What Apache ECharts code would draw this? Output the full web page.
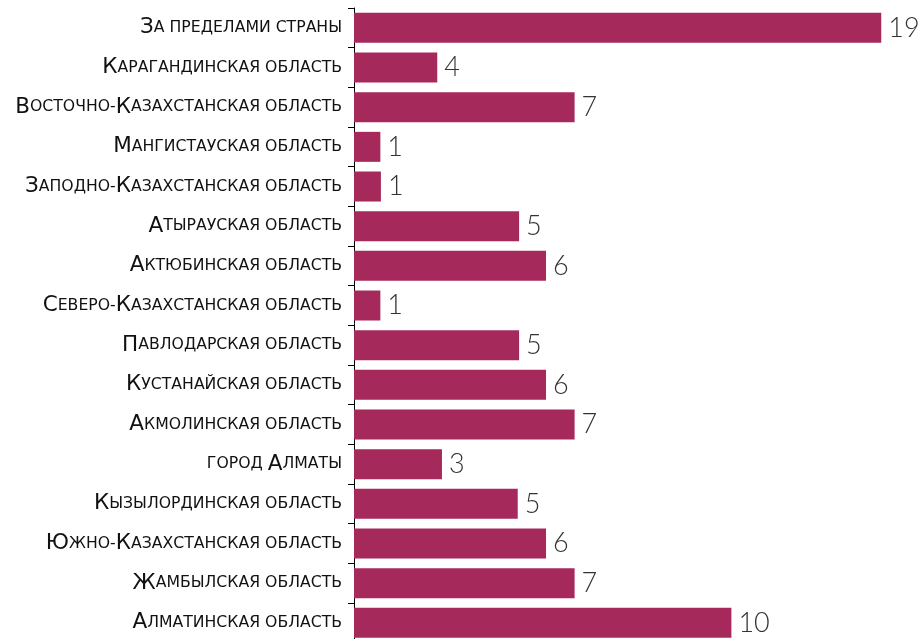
<!DOCTYPE html>
<html><head><meta charset="utf-8">
<script src="https://cdn.jsdelivr.net/npm/echarts@6/dist/echarts.min.js"></script>
<style>html,body{margin:0;padding:0;background:#fff}#c{width:919px;height:639px}</style>
</head><body><div id="c"></div>
<script>
const categories = [
  "За пределами страны",
  "Карагандинская область",
  "Восточно-Казахстанская область",
  "Мангистауская область",
  "Заподно-Казахстанская область",
  "Атырауская область",
  "Актюбинская область",
  "Северо-Казахстанская область",
  "Павлодарская область",
  "Кустанайская область",
  "Акмолинская область",
  "город Алматы",
  "Кызылординская область",
  "Южно-Казахстанская область",
  "Жамбылская область",
  "Алматинская область"
];
// bar lengths as drawn
const barValues = [19, 3.0, 7.95, 0.95, 0.97, 5.95, 6.92, 0.95, 5.95, 6.92, 7.95, 3.17, 5.9, 6.92, 7.95, 13.6];
// numbers printed next to the bars
const labelValues = [19, 4, 7, 1, 1, 5, 6, 1, 5, 6, 7, 3, 5, 6, 7, 10];

function smallCaps(s) {
  let out = '', cur = null, buf = '';
  for (const ch of s) {
    const isUp = ch !== ch.toLowerCase() && ch === ch.toUpperCase();
    const st = isUp ? 'b' : 's';
    if (st !== cur) { if (buf) out += '{' + cur + '|' + buf + '}'; buf = ''; cur = st; }
    buf += ch.toUpperCase();
  }
  if (buf) out += '{' + cur + '|' + buf + '}';
  return out;
}

const chart = echarts.init(document.getElementById('c'));
chart.setOption({
  animation: false,
  grid: { left: 354, top: 8, width: 555, height: 634.7, containLabel: false, outerBoundsMode: 'none' },
  xAxis: { type: 'value', min: 0, max: 20, show: false },
  yAxis: {
    type: 'category', data: categories, inverse: true,
    axisLine: { show: true, lineStyle: { color: '#000', width: 1 } },
    axisTick: { show: true, length: 6, lineStyle: { color: '#000' } },
    axisLabel: {
      margin: 12, color: '#111',
      formatter: v => smallCaps(v),
      rich: {
        b: { fontFamily: 'DejaVu Sans', fontSize: 21.5, color: '#111' },
        s: { fontFamily: 'DejaVu Sans', fontSize: 15.7, color: '#111' }
      }
    }
  },
  series: [{
    type: 'bar', barWidth: 30,
    data: barValues,
    itemStyle: { color: '#A6295C' },
    label: {
      show: true, position: 'right', distance: 7,
      formatter: p => labelValues[p.dataIndex],
      fontFamily: 'Lato', fontWeight: 300, fontSize: 27, color: '#333'
    }
  }]
});
</script></body></html>
